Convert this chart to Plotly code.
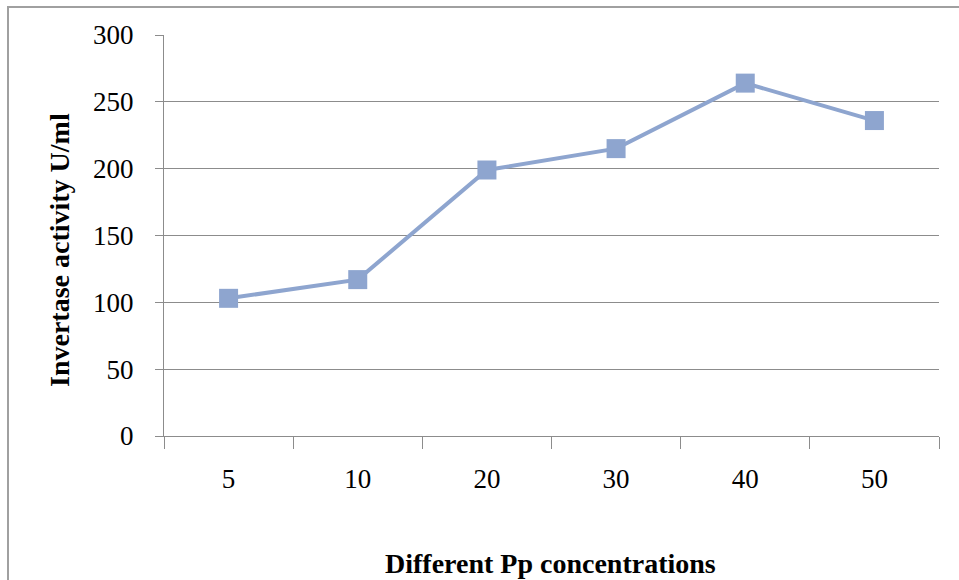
import plotly.graph_objects as go

categories = ["5", "10", "20", "30", "40", "50"]
activity = [103, 117, 199, 215, 264, 236]
y_ticks = [0, 50, 100, 150, 200, 250, 300]

W, H = 959, 580
L, R, T, B = 164, 20, 35, 144
pw, ph = W - L - R, H - T - B

line_col = "#8EA5CF"
grid_col = "#8C8C8C"
font_fam = "Liberation Serif"

fig = go.Figure()
fig.add_trace(go.Scatter(
    x=categories, y=activity, mode="lines+markers",
    line=dict(color=line_col, width=4),
    marker=dict(symbol="square", size=19, color=line_col),
    showlegend=False,
))

fig.update_layout(
    width=W, height=H,
    margin=dict(l=L, r=R, t=T, b=B),
    paper_bgcolor="white", plot_bgcolor="white",
    font=dict(family=font_fam, color="black"),
    xaxis=dict(
        type="category", tickson="boundaries",
        range=[-0.5, len(categories) - 0.5],
        ticks="outside", ticklen=12, tickcolor=grid_col, tickwidth=1,
        showline=True, linecolor=grid_col, linewidth=1,
        showgrid=False, tickfont=dict(size=27, family=font_fam),
        ticklabelstandoff=19,
    ),
    yaxis=dict(
        range=[0, 300], tickvals=y_ticks,
        ticks="outside", ticklen=8, tickcolor=grid_col, tickwidth=1,
        showline=True, linecolor=grid_col, linewidth=1,
        showgrid=True, gridcolor=grid_col, gridwidth=1,
        zeroline=False, tickfont=dict(size=27, family=font_fam),
        ticklabelstandoff=16,
    ),
    annotations=[
        dict(text="<b>Different Pp concentrations</b>", xref="paper", yref="paper",
             x=(550 - L) / pw, y=(H - B - 563) / ph, xanchor="center", yanchor="middle",
             showarrow=False, font=dict(size=28, family=font_fam, color="black")),
        dict(text="<b>Invertase activity U/ml</b>", xref="paper", yref="paper",
             x=(59 - L) / pw, y=(H - B - 250) / ph, xanchor="center", yanchor="middle",
             textangle=-90, showarrow=False,
             font=dict(size=28, family=font_fam, color="black")),
    ],
    shapes=[
        dict(type="rect", xref="paper", yref="paper",
             x0=(8 - L) / pw, x1=(W + 20 - L) / pw,
             y0=(H - B - (H + 20)) / ph, y1=(H - B - 7) / ph,
             line=dict(color="#A0A0A0", width=2), fillcolor="rgba(0,0,0,0)", layer="below"),
    ],
)

fig.write_html("out.html")
